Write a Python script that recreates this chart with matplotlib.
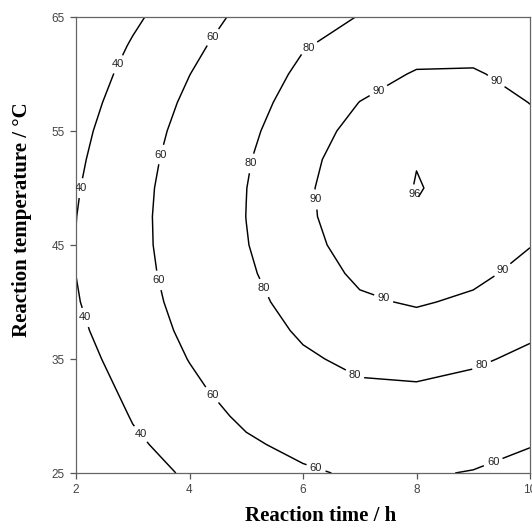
import matplotlib
matplotlib.use('Agg')
import matplotlib.pyplot as plt
import numpy as np

# Reaction time (h) and reaction temperature (C) of the grid
time_h = [2, 3, 4, 5, 6, 7, 8, 9, 10]
temp_c = [25, 27.5, 30, 32.5, 35, 37.5, 40, 42.5, 45, 47.5,
          50, 52.5, 55, 57.5, 60, 62.5, 65]

# Yield (%), one row per temperature
yield_pct = [
    [7.8, 31.5, 42.7, 52.1, 58.0, 62.0, 61.5, 59.3, 53.8],
    [15.8, 36.7, 48.1, 57.8, 64.0, 68.2, 68.0, 65.6, 60.8],
    [22.7, 41.3, 52.9, 62.9, 69.4, 73.7, 73.9, 71.6, 67.2],
    [28.4, 45.2, 57.0, 67.3, 74.2, 78.5, 79.1, 77.0, 72.8],
    [33.0, 48.5, 60.5, 71.0, 78.3, 82.7, 83.6, 81.6, 77.7],
    [36.5, 51.2, 63.4, 74.2, 81.7, 86.2, 87.4, 85.6, 81.9],
    [38.9, 53.2, 65.6, 76.6, 84.5, 89.1, 90.6, 88.9, 85.3],
    [40.1, 54.6, 67.2, 78.4, 86.6, 91.2, 93.0, 91.5, 88.1],
    [40.3, 55.4, 68.2, 79.6, 88.0, 92.7, 94.7, 93.4, 90.2],
    [39.8, 55.5, 68.5, 80.1, 88.8, 93.5, 95.8, 94.6, 91.6],
    [38.7, 54.9, 68.2, 79.9, 89.0, 93.7, 96.15, 95.0, 92.2],
    [37.0, 53.6, 67.1, 79.1, 88.4, 93.1, 95.9, 94.9, 92.2],
    [34.9, 51.7, 65.4, 77.5, 87.2, 91.9, 94.7, 94.2, 91.5],
    [32.1, 49.0, 63.0, 75.3, 85.2, 90.1, 93.0, 92.8, 89.9],
    [28.8, 45.7, 59.8, 72.4, 82.6, 87.5, 90.5, 90.6, 87.9],
    [24.9, 41.6, 56.0, 68.8, 79.2, 84.3, 87.4, 87.8, 85.2],
    [20.5, 36.9, 51.5, 64.4, 75.2, 80.4, 83.6, 84.4, 81.7],
]

levels = [40, 60, 80, 90, 96]
x_ticks = [2, 4, 6, 8, 10]
y_ticks = [25, 35, 45, 55, 65]

# where the contour labels sit
label_pos = [(2.72, 60.9), (2.07, 50.0), (2.2, 38.7), (3.16, 28.5),
             (4.36, 63.4), (3.45, 53.0), (3.38, 41.8), (4.36, 31.7),
             (6.24, 25.6), (9.34, 26.1),
             (6.15, 62.0), (5.04, 52.2), (5.26, 41.1), (6.92, 33.7),
             (9.15, 34.4),
             (7.31, 58.7), (9.42, 59.5), (6.25, 49.0), (7.42, 40.3),
             (9.5, 42.9),
             (8.0, 49.5)]

fig = plt.figure(figsize=(5.32, 5.26), dpi=100)
ax = fig.add_axes([76 / 532, 1 - 473 / 526, 454 / 532, 456 / 526])

X, Y = np.meshgrid(time_h, temp_c)
Z = np.array(yield_pct)
cs = ax.contour(X, Y, Z, levels=levels, colors='black', linewidths=1.05)
labels = ax.clabel(cs, manual=label_pos, inline=True, fmt='%d',
                   fontsize=8, inline_spacing=3, colors='#222222')
for t in labels:
    t.set_rotation(0)
    t.set_family('Liberation Sans')

ax.set_xlim(2, 10)
ax.set_ylim(25, 65)
ax.set_xticks(x_ticks)
ax.set_yticks(y_ticks)
ax.tick_params(axis='both', direction='out', length=4, width=0.9,
               color='#555555', labelsize=8.5, labelcolor='#444444', pad=4)
for lab in ax.get_xticklabels() + ax.get_yticklabels():
    lab.set_family('Liberation Sans')
for sp in ax.spines.values():
    sp.set_color('#666666')
    sp.set_linewidth(0.9)

fig.text(22 / 532, 1 - 220 / 526, 'Reaction temperature / °C', rotation=90,
         ha='center', va='center', fontsize=15, fontweight='bold',
         family='Liberation Serif')
fig.text(321 / 532, 1 - 516 / 526, 'Reaction time / h',
         ha='center', va='center', fontsize=15, fontweight='bold',
         family='Liberation Serif')

fig.savefig('out.png', dpi=100)
